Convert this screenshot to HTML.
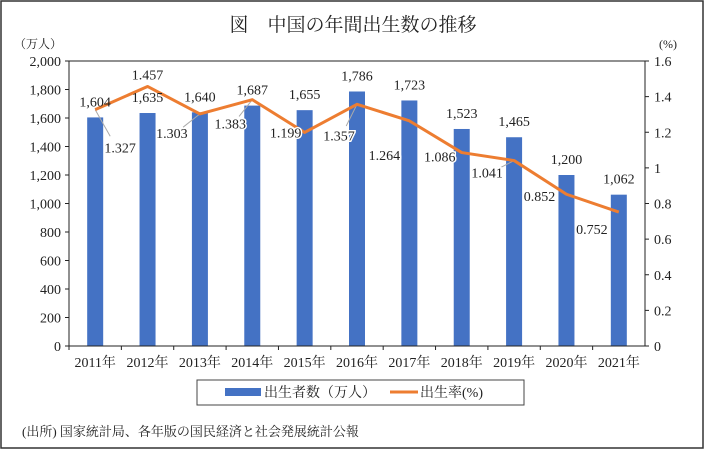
<!DOCTYPE html>
<html><head><meta charset="utf-8"><style>
body{margin:0;background:#fff;}
svg text{font-family:"Liberation Serif","Noto Serif CJK SC",serif;fill:#222;}
</style></head><body>
<svg id="c" width="706" height="451">
<rect x="1" y="1" width="702" height="447" fill="#fff" stroke="#333" stroke-width="1.5"/>
<text x="353" y="31" font-size="19" text-anchor="middle">図　中国の年間出生数の推移</text>
<text x="38" y="48" font-size="12" text-anchor="middle">（万人）</text>
<text x="668" y="48" font-size="12" text-anchor="middle">(%)</text>
<g id="g"></g>
<rect x="197" y="380" width="327" height="25" fill="#fff" stroke="#444"/>
<rect x="225" y="388" width="36" height="8" fill="#4472c4"/>
<text x="264" y="397" font-size="14">出生者数（万人）</text>
<line x1="390" y1="392" x2="418" y2="392" stroke="#ed7d31" stroke-width="3"/>
<text x="420" y="397" font-size="14">出生率(%)</text>
<text x="22" y="436" font-size="13">(出所) 国家統計局、各年版の国民経済と社会発展統計公報</text>
</svg>
<script>
const categories=["2011年","2012年","2013年","2014年","2015年","2016年","2017年","2018年","2019年","2020年","2021年"];
const births=[1604,1635,1640,1687,1655,1786,1723,1523,1465,1200,1062];
const rates=[1.327,1.457,1.303,1.383,1.199,1.357,1.264,1.086,1.041,0.852,0.752];
const leftTicks=[0,200,400,600,800,1000,1200,1400,1600,1800,2000];
const rightTicks=[0,0.2,0.4,0.6,0.8,1,1.2,1.4,1.6];
const rateLabelDx=[25,0,-28,-22,-19,-18,-25,-22,-27,-27,-27];
const rateLabelDy=[38,-12,19,24,0,31,34,4,12,2,17];
const leaders=[0,2,3,5,8];
const L=69,R=645,T=61,B=346;
const bw=(R-L)/categories.length;
const xc=i=>L+bw*(i+0.5);
const yL=v=>B-v/2000*(B-T);
const yR=v=>B-v/1.6*(B-T);
const g=document.getElementById('g');
const NS="http://www.w3.org/2000/svg";
function mk(t,a){const e=document.createElementNS(NS,t);for(const k in a)e.setAttribute(k,a[k]);g.appendChild(e);return e;}
leftTicks.forEach(v=>{
 const t=mk('text',{x:L-8,y:yL(v)+5,'font-size':14,'text-anchor':'end'});t.textContent=v.toLocaleString('en-US');
 
 
 mk('line',{x1:L-4,x2:L,y1:yL(v),y2:yL(v),stroke:'#222'});
});
rightTicks.forEach(v=>{
 const t=mk('text',{x:R+9,y:yR(v)+5,'font-size':14});t.textContent=String(v);
 
 
 mk('line',{x1:R,x2:R+4,y1:yR(v),y2:yR(v),stroke:'#222'});
});
births.forEach((v,i)=>{
 const r=mk('rect',{x:xc(i)-8,y:yL(v),width:16,height:B-yL(v),fill:'#4472c4'});
 
 
 const c=mk('text',{x:xc(i),y:B+21,'font-size':14,'text-anchor':'middle'});c.textContent=categories[i];
 
 
 mk('line',{x1:L+bw*i,x2:L+bw*i,y1:B,y2:B+4,stroke:'#222'});
});
mk('line',{x1:L,x2:L,y1:T,y2:B,stroke:'#222'});
mk('line',{x1:R,x2:R,y1:T,y2:B,stroke:'#222'});
mk('line',{x1:L,x2:R,y1:B,y2:B,stroke:'#222'});
mk('line',{x1:L,x2:R,y1:T,y2:T,stroke:'#222'});
leaders.forEach(i=>{
 mk('line',{x1:xc(i),y1:yR(rates[i]),x2:xc(i)+rateLabelDx[i]*0.6,y2:yR(rates[i])+rateLabelDy[i]*0.7,stroke:'#aaa'});
});
const pl=mk('polyline',{points:rates.map((v,i)=>xc(i)+','+yR(v)).join(' '),fill:'none',stroke:'#ed7d31','stroke-width':3,'stroke-linejoin':'round'});


births.forEach((v,i)=>{
 const t=mk('text',{x:xc(i),y:yL(v)-11,'font-size':14,'text-anchor':'middle'});t.textContent=v.toLocaleString('en-US');
 
 
});
rates.forEach((v,i)=>{
 const t=mk('text',{x:xc(i)+rateLabelDx[i],y:yR(v)+rateLabelDy[i]+5,'font-size':14,'text-anchor':'middle','paint-order':'stroke',stroke:'#fff','stroke-width':3});
 t.textContent=v.toFixed(3);
 
 
});
</script>
</body></html>
